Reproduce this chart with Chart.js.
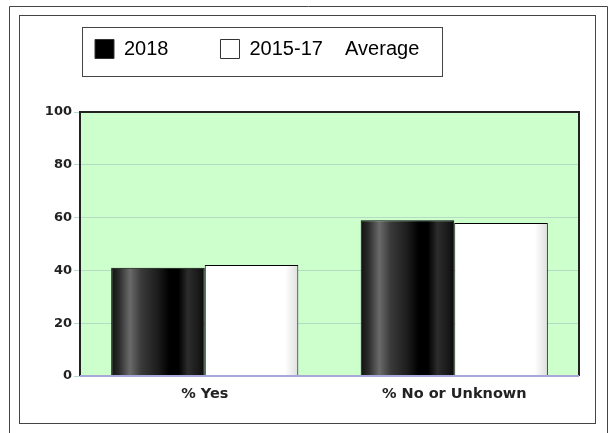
<!DOCTYPE html>
<html>
<head>
<meta charset="utf-8">
<script src="https://cdn.jsdelivr.net/npm/chart.js@4"></script>
<style>
  html, body { margin: 0; padding: 0; background: #fff; }
  #wrap { width: 614px; height: 433px; }
</style>
</head>
<body>
<div id="wrap"><canvas id="chart" width="614" height="433"></canvas></div>
<script>
// ----- Data -----
const categories = ["% Yes", "% No or Unknown"];
const values2018 = [41, 59];
const valuesAverage = [42, 58];
const yTicks = [0, 20, 40, 60, 80, 100];

// ----- Bar gradients -----
function barGradient(context, stops, side) {
  const chart = context.chart;
  const area = chart.chartArea;
  const x = chart.scales.x;
  if (!area || !x) return stops[0][1];
  const center = x.getPixelForValue(context.dataIndex);
  const barW = (area.right - area.left) / categories.length * 0.75 / 2;
  const x0 = side === "left" ? center - barW : center;
  const g = chart.ctx.createLinearGradient(x0, 0, x0 + barW, 0);
  stops.forEach(s => g.addColorStop(s[0], s[1]));
  return g;
}

const darkStops = [
  [0, "#111"], [0.08, "#2a2a2a"], [0.2, "#6a6a6a"], [0.32, "#3a3a3a"],
  [0.5, "#1c1c1c"], [0.62, "#000"], [0.72, "#000"], [0.82, "#2c2c2c"],
  [0.93, "#1a1a1a"], [1, "#0a0a0a"]
];
const lightStops = [[0, "#fff"], [0.86, "#fff"], [1, "#dedede"]];

// ----- Frames, plot background and legend box -----
const decor = {
  id: "decor",
  beforeInit(chart) {
    // fixed legend block height so the plot starts where the original does
    chart.legend.fit = function () {
      this.width = this.maxWidth;
      this.height = 125;
      const pad = this.options.labels.padding;
      const font = this.options.labels.font.size;
      this.legendHitBoxes = [];
      this.lineWidths = [0];
      const ctx = this.ctx;
      ctx.font = font + "px 'Liberation Sans', Arial, sans-serif";
      const items = this.options.labels.generateLabels(this.chart);
      this.legendItems = items;
      let w = 0;
      items.forEach((it, i) => {
        const iw = this.options.labels.boxWidth + font / 2 + ctx.measureText(it.text).width;
        this.legendHitBoxes.push({ left: 0, top: 0, width: iw, height: font, row: 0, col: 0 });
        w += iw + (i > 0 ? pad : 0);
      });
      this.lineWidths = [w + pad];
      this.columnSizes = [];
    };
  },
  beforeDraw(chart) {
    const { ctx, chartArea: a } = chart;
    ctx.save();
    ctx.fillStyle = "#ccffcc";
    ctx.fillRect(a.left, a.top, a.right - a.left, a.bottom - a.top);
    ctx.strokeStyle = "#444";
    ctx.lineWidth = 1;
    ctx.beginPath();
    ctx.moveTo(9.5, 433); ctx.lineTo(9.5, 6.5); ctx.lineTo(607.5, 6.5); ctx.lineTo(607.5, 433);
    ctx.stroke();
    ctx.strokeRect(19.5, 15.5, 576, 408);
    ctx.strokeRect(82.5, 27.5, 360, 49);
    ctx.restore();
  },
  afterDatasetsDraw(chart) {
    const { ctx, chartArea: a } = chart;
    ctx.save();
    ctx.strokeStyle = "#222";
    ctx.lineWidth = 2;
    ctx.beginPath();
    ctx.moveTo(a.left, a.bottom); ctx.lineTo(a.left, a.top);
    ctx.lineTo(a.right, a.top); ctx.lineTo(a.right, a.bottom);
    ctx.stroke();
    ctx.strokeStyle = "#a8a8d8";
    ctx.lineWidth = 2;
    ctx.beginPath();
    ctx.moveTo(a.left, a.bottom); ctx.lineTo(a.right, a.bottom);
    ctx.stroke();
    ctx.restore();
  }
};

// ----- Chart -----
document.addEventListener("DOMContentLoaded", () => {
  const ctx = document.getElementById("chart").getContext("2d");
  new Chart(ctx, {
    type: "bar",
    data: {
      labels: categories,
      datasets: [
        {
          label: "2018",
          data: values2018,
          backgroundColor: c => barGradient(c, darkStops, "left"),
          borderColor: "#000",
          borderWidth: 1,
        },
        {
          label: "2015-17    Average",
          data: valuesAverage,
          backgroundColor: c => barGradient(c, lightStops, "right"),
          borderColor: "#000",
          borderWidth: 1,
        },
      ],
    },
    options: {
      responsive: false,
      animation: false,
      events: [],
      layout: { padding: { top: -13, left: 43, right: 35, bottom: 10 } },
      datasets: { bar: { categoryPercentage: 0.75, barPercentage: 1 } },
      plugins: {
        tooltip: { enabled: false },
        legend: {
          display: true,
          position: "top",
          align: "start",
          labels: {
            color: "#000",
            font: { family: "'Liberation Sans', Arial, sans-serif", size: 20 },
            boxWidth: 19,
            boxHeight: 19,
            padding: 52,
            generateLabels: chart => chart.data.datasets.map((ds, i) => ({
              text: ds.label,
              fillStyle: i === 0 ? "#000" : "#fff",
              strokeStyle: "#333",
              lineWidth: 1,
              datasetIndex: i,
            })),
          },
        },
      },
      scales: {
        x: {
          afterFit: s => { s.height = 47; },
          grid: { display: false },
          border: { display: false },
          ticks: {
            color: "#222",
            font: { family: "'DejaVu Sans', Verdana, sans-serif", size: 14.5, weight: "bold" },
            padding: 2,
          },
        },
        y: {
          min: 0,
          max: 100,
          afterFit: s => { s.width = 37; },
          afterBuildTicks: s => { s.ticks = yTicks.map(v => ({ value: v })); },
          grid: { color: "#b4dcc4", lineWidth: 1, drawTicks: true, tickLength: 6, tickColor: "#b4dcc4" },
          border: { display: false },
          ticks: {
            color: "#222",
            font: { family: "'DejaVu Sans', Verdana, sans-serif", size: 13, weight: "bold" },
            padding: 2,
          },
        },
      },
    },
    plugins: [decor],
  });
});
</script>
</body>
</html>
